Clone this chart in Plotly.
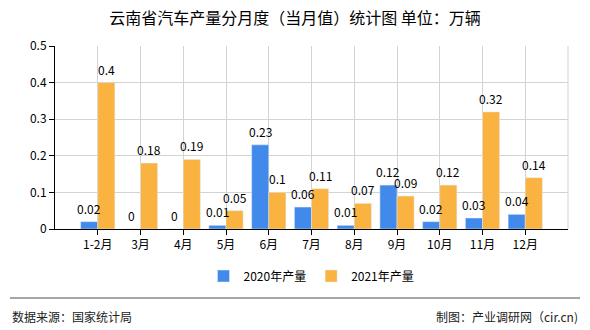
import plotly.graph_objects as go

categories = ["1-2月", "3月", "4月", "5月", "6月", "7月", "8月", "9月", "10月", "11月", "12月"]
values_2020 = [0.02, 0, 0, 0.01, 0.23, 0.06, 0.01, 0.12, 0.02, 0.03, 0.04]
values_2021 = [0.4, 0.18, 0.19, 0.05, 0.1, 0.11, 0.07, 0.09, 0.12, 0.32, 0.14]
series_names = ["2020年产量", "2021年产量"]
y_ticks = [0, 0.1, 0.2, 0.3, 0.4, 0.5]
title_text = "云南省汽车产量分月度（当月值）统计图 单位：万辆"
source_text = "数据来源：国家统计局"
credit_text = "制图：产业调研网（cir.cn)"

FONT = "Noto Sans CJK SC, sans-serif"
BLUE = "#418AEB"
ORANGE = "#FAB240"

x_idx = list(range(len(categories)))
BAR_OFFSET = 0.2  # half of bar width in category units (bargap 0.2, two bars)

fig = go.Figure()
fig.add_trace(go.Bar(x=x_idx, y=values_2020, name=series_names[0], marker_color=BLUE))
fig.add_trace(go.Bar(x=x_idx, y=values_2021, name=series_names[1], marker_color=ORANGE))

annotations = []
for series, sign in ((values_2020, -1), (values_2021, 1)):
    for i, v in zip(x_idx, series):
        annotations.append(dict(
            x=i + sign * BAR_OFFSET, y=v, xref="x", yref="y", text=str(v),
            showarrow=False, xanchor="center", yanchor="bottom", yshift=3,
            font=dict(size=12, color="#000", family=FONT),
        ))

annotations += [
    dict(text=source_text, xref="paper", yref="paper", x=-45/513, y=-87/183,
         xanchor="left", yanchor="middle", showarrow=False,
         font=dict(size=12, color="#222", family=FONT)),
    dict(text=credit_text, xref="paper", yref="paper", x=12/513 + 1, y=-87/183,
         xanchor="right", yanchor="middle", showarrow=False,
         font=dict(size=12, color="#222", family=FONT)),
]

fig.update_layout(
    width=590, height=330,
    margin=dict(l=55, r=22, t=46, b=101),
    paper_bgcolor="white", plot_bgcolor="white",
    font=dict(family=FONT, size=12, color="#000"),
    barmode="group", bargap=0.2, bargroupgap=0,
    title=dict(text=title_text, x=0.5, xanchor="center", y=0.945, yanchor="middle",
               font=dict(size=16, color="#000", family=FONT)),
    showlegend=True,
    legend=dict(orientation="h", x=0.5, xanchor="center", y=-47/183, yanchor="middle",
                font=dict(size=12, color="#000"), itemwidth=30, traceorder="normal"),
    xaxis=dict(
        tickmode="array", tickvals=x_idx, ticktext=categories,
        range=[-1, len(categories)],
        showgrid=True, gridcolor="#d3d3d3", gridwidth=1,
        showline=True, linecolor="#000", linewidth=1, mirror=False,
        ticks="outside", ticklen=5, tickcolor="#000",
        tickfont=dict(size=12, color="#000"), zeroline=False,
    ),
    yaxis=dict(
        range=[0, 0.5], tickvals=y_ticks, ticktext=[str(v) for v in y_ticks],
        showgrid=True, gridcolor="#d3d3d3", gridwidth=1,
        showline=True, linecolor="#000", linewidth=1,
        ticks="outside", ticklen=5, tickcolor="#000",
        tickfont=dict(size=12, color="#000"), zeroline=False,
    ),
    shapes=[
        dict(type="line", xref="paper", yref="paper", x0=1, x1=1, y0=0, y1=1,
             line=dict(color="#d3d3d3", width=1)),
        dict(type="line", xref="paper", yref="paper", x0=-45/513, x1=12/513 + 1,
             y0=-69/183, y1=-69/183, line=dict(color="#888", width=1.5)),
    ],
    annotations=annotations,
)

fig.write_html("out.html")
